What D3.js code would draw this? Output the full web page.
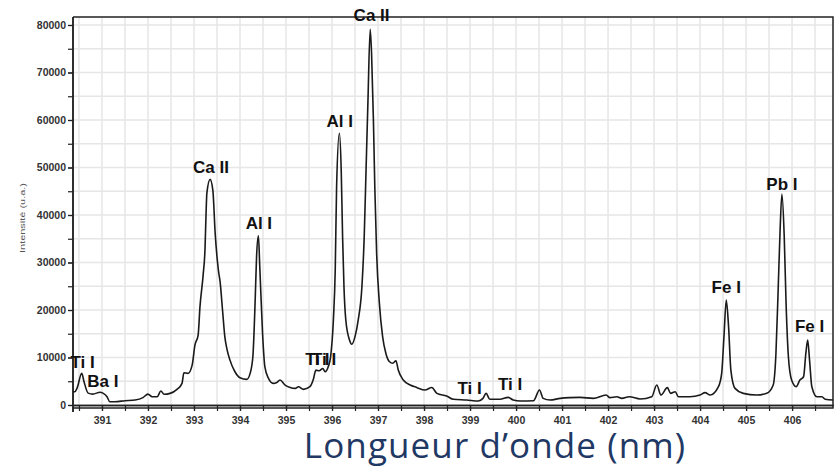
<!DOCTYPE html>
<html>
<head>
<meta charset="utf-8">
<script src="https://cdn.jsdelivr.net/npm/d3@7/dist/d3.min.js"></script>
<style>
  body { margin: 0; background: #fff; }
  svg { display: block; }
</style>
</head>
<body>
<script>
const width = 836,
  height = 469,
  marginRight = 3,
  marginLeft = 73,
  zeroY = 405;

// spectrum (nm / u.a.)
const wavelength = [
  390.37, 390.41, 390.46, 390.56, 390.61, 390.70, 390.80, 390.96, 391.02, 391.11,
  391.17, 391.28, 391.50, 391.72, 391.89, 392.00, 392.09, 392.20, 392.28, 392.35,
  392.48, 392.63, 392.74, 392.78, 392.87, 392.96, 393.02, 393.09, 393.13, 393.20,
  393.24, 393.26, 393.28, 393.35, 393.41, 393.46, 393.53, 393.57, 393.62, 393.67,
  393.72, 393.78, 393.89, 394.00, 394.15, 394.22, 394.28, 394.33, 394.36, 394.40,
  394.43, 394.49, 394.54, 394.62, 394.72, 394.80, 394.87, 394.98, 395.09, 395.20,
  395.27, 395.38, 395.52, 395.59, 395.65, 395.72, 395.80, 395.85, 395.92, 395.97,
  396.03, 396.07, 396.10, 396.16, 396.20, 396.23, 396.26, 396.30, 396.38, 396.43,
  396.50, 396.57, 396.65, 396.70, 396.74, 396.78, 396.83, 396.86, 396.90, 396.93,
  396.97, 397.03, 397.10, 397.17, 397.25, 397.32, 397.39, 397.44, 397.55, 397.70,
  397.84, 398.02, 398.17, 398.28, 398.49, 398.64, 398.93, 399.18, 399.28, 399.35,
  399.43, 399.65, 399.83, 399.94, 400.09, 400.38, 400.51, 400.59, 400.74, 400.96,
  401.17, 401.39, 401.68, 401.96, 402.04, 402.19, 402.30, 402.46, 402.70, 402.95,
  403.06, 403.15, 403.29, 403.36, 403.46, 403.53, 403.78, 404.00, 404.11, 404.22,
  404.40, 404.47, 404.52, 404.57, 404.62, 404.67, 404.76, 404.94, 405.23, 405.45,
  405.59, 405.65, 405.70, 405.74, 405.78, 405.83, 405.87, 405.92, 405.99, 406.09,
  406.17, 406.25, 406.30, 406.34, 406.38, 406.43, 406.54, 406.65, 406.72, 406.89
];
const intensity = [
  2800, 2800, 3600, 6700, 4900, 2500, 2300, 2700, 2500, 1750,
  700, 700, 900, 1050, 1550, 2300, 1750, 1750, 2950, 2250,
  2450, 3300, 4550, 6800, 6650, 8400, 12600, 14700, 20700, 27500,
  33000, 39600, 44600, 47500, 45200, 36200, 28400, 25700, 20000, 14400,
  11600, 9500, 7000, 5750, 5400, 6650, 10200, 22100, 31200, 35600,
  29100, 15100, 8100, 5600, 4550, 4750, 5250, 4200, 3700, 3500,
  3850, 3300, 3850, 5250, 7350, 7200, 7700, 7000, 8100, 10200,
  17900, 28400, 46000, 57200, 49500, 35400, 24900, 17900, 13700, 12800,
  14400, 17900, 24900, 35400, 49500, 63500, 79100, 74000, 60000, 46000,
  31900, 21400, 14400, 10900, 9100, 8800, 9300, 7350, 5250, 4200,
  3700, 3150, 3700, 2450, 1900, 1200, 1050, 850, 1400, 2450,
  1200, 1200, 1600, 1050, 850, 900, 3150, 1400, 1050, 1400,
  1550, 1600, 1400, 2100, 1550, 1750, 1400, 1750, 1260, 1750,
  4200, 2100, 3650, 2450, 2800, 1750, 1750, 2100, 2600, 2100,
  3850, 6650, 14400, 22100, 16500, 7350, 3500, 2450, 2100, 2450,
  4200, 10900, 24900, 36800, 44400, 35400, 21400, 10200, 5250, 3850,
  5250, 5950, 10900, 13700, 9500, 3850, 1750, 1750, 1200, 1050
];

// line labels: text, wavelength of label centre, intensity at baseline
const labelText = ["Ti I", "Ba I", "Ca II", "Al I", "Ti I", "Ti I", "Al I", "Ca II", "Ti I", "Ti I", "Fe I", "Pb I", "Fe I"];
const labelNm = [390.58, 391.02, 393.37, 394.41, 395.68, 395.83, 396.17, 396.86, 398.99, 399.87, 404.57, 405.78, 406.38];
const labelAt = [7790, 3790, 48840, 37050, 8420, 8420, 58460, 80840, 2320, 3160, 23640, 45260, 15300];

const xDomain = [390.37, 406.89];
const yMax = 81700;
const xMajor = d3.range(391, 407, 1);
const xMinor = d3.range(390.5, 407, 0.5);
const yMajor = d3.range(0, 80001, 10000);
const yMinor = d3.range(0, 80001, 5000);

const x = d3.scaleLinear().domain(xDomain).range([marginLeft, width - marginRight]);
const y = d3.scaleLinear().domain([0, 80000]).range([zeroY, 25]);

const svg = d3.select("body").append("svg")
  .attr("width", width)
  .attr("height", height);

const frameTop = y(yMax), frameRight = x(xDomain[1]), frameBottom = zeroY + 3;

// grid
svg.append("g")
  .selectAll("line")
  .data(xMinor)
  .join("line")
  .attr("x1", d => x(d)).attr("x2", d => x(d))
  .attr("y1", frameTop).attr("y2", frameBottom)
  .attr("stroke", "#e6e6e6").attr("stroke-width", 1.5);
svg.append("g")
  .selectAll("line")
  .data(yMinor.filter(d => d > 0))
  .join("line")
  .attr("x1", marginLeft).attr("x2", frameRight)
  .attr("y1", d => y(d)).attr("y2", d => y(d))
  .attr("stroke", "#e6e6e6").attr("stroke-width", 1.5);

// frame
svg.append("path")
  .attr("d", `M${marginLeft},${frameTop}H${frameRight}V${frameBottom}H${marginLeft}`)
  .attr("fill", "none").attr("stroke", "#222").attr("stroke-width", 1.5);

// axes
const tickFont = g => g.selectAll("text")
  .attr("font-family", "Liberation Sans, Arial, sans-serif")
  .attr("font-weight", "bold")
  .attr("font-size", 10.5)
  .attr("fill", "#333");

const xAxis = svg.append("g").attr("transform", `translate(0,${zeroY})`);
xAxis.append("g").call(d3.axisBottom(x).tickValues(xMinor).tickSize(6).tickSizeOuter(0))
  .selectAll("text").remove();
xAxis.append("g").call(d3.axisBottom(x).tickValues(xMajor).tickSize(6).tickPadding(6).tickSizeOuter(0));
xAxis.selectAll("path.domain").attr("stroke", "#222").attr("stroke-width", 1.5);
xAxis.selectAll("line").attr("stroke", "#222").attr("stroke-width", 1.2);
xAxis.call(tickFont);

const yAxis = svg.append("g").attr("transform", `translate(${marginLeft},0)`);
yAxis.append("g").call(d3.axisLeft(y).tickValues(yMinor).tickSize(5).tickSizeOuter(0))
  .selectAll("text").remove();
yAxis.append("g").call(d3.axisLeft(y).tickValues(yMajor).tickSize(5).tickPadding(2).tickFormat(d3.format("d")).tickSizeOuter(0));
yAxis.selectAll("path.domain").attr("d", `M0,${frameTop}V${frameBottom + 4}`).attr("stroke", "#222").attr("stroke-width", 1.5);
yAxis.selectAll("line").attr("stroke", "#222").attr("stroke-width", 1.2);
yAxis.call(tickFont);

// spectrum
const points = wavelength.map((w, i) => [w, intensity[i]]);
svg.append("path")
  .datum(points)
  .attr("fill", "none")
  .attr("stroke", "#1a1a1a")
  .attr("stroke-width", 1.6)
  .attr("stroke-linejoin", "round")
  .attr("d", d3.line().x(d => x(d[0])).y(d => y(d[1])).curve(d3.curveMonotoneX));

// labels
svg.append("g")
  .selectAll("text")
  .data(labelText)
  .join("text")
  .attr("x", (d, i) => x(labelNm[i]))
  .attr("y", (d, i) => y(labelAt[i]))
  .attr("text-anchor", "middle")
  .attr("font-family", "Liberation Sans, Arial, sans-serif")
  .attr("font-weight", "bold")
  .attr("font-size", 17)
  .attr("fill", "#111")
  .text(d => d);

svg.append("text")
  .attr("transform", `translate(25,${y(40000) + 3}) rotate(-90)`)
  .attr("text-anchor", "middle")
  .attr("font-family", "Liberation Sans, Arial, sans-serif")
  .attr("font-size", 8)
  .attr("fill", "#555")
  .attr("textLength", 70)
  .attr("lengthAdjust", "spacingAndGlyphs")
  .text("Intensité (u.a.)");

svg.append("text")
  .attr("x", 495)
  .attr("y", 458)
  .attr("text-anchor", "middle")
  .attr("font-family", "Open Sans, sans-serif")
  .attr("font-size", 35)
  .attr("letter-spacing", 1.1)
  .attr("fill", "#1f3864")
  .text("Longueur d’onde (nm)");
</script>
</body>
</html>
